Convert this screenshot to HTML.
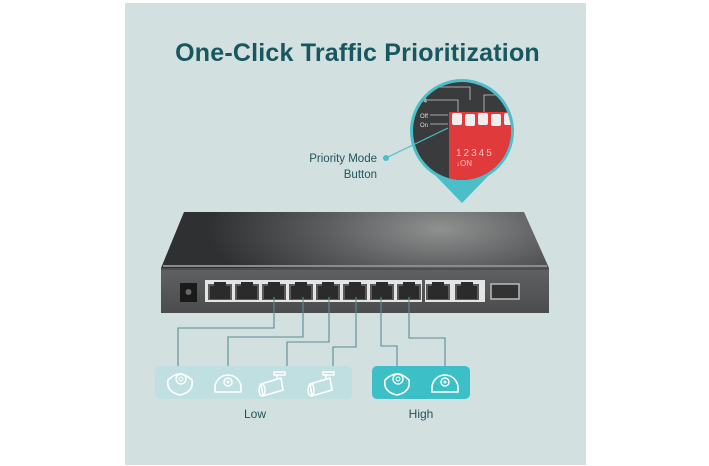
<!DOCTYPE html>
<html><head><meta charset="utf-8"><style>
html,body{margin:0;padding:0;background:#fff;}
svg{display:block;}
text{font-family:"Liberation Sans",sans-serif;}
</style></head><body>
<svg width="709" height="466" viewBox="0 0 709 466" xmlns="http://www.w3.org/2000/svg">
<defs>
<radialGradient id="top" cx="0.72" cy="0.3" r="0.6" gradientTransform="translate(0.72 0.3) scale(1 2.5) translate(-0.72 -0.3)">
<stop offset="0" stop-color="#8f9191"/><stop offset="0.5" stop-color="#5a5c5d"/><stop offset="1" stop-color="#2e3031"/>
</radialGradient>
<linearGradient id="front" x1="0" x2="0" y1="0" y2="1">
<stop offset="0" stop-color="#5f6162"/><stop offset="1" stop-color="#4a4c4d"/>
</linearGradient>
<clipPath id="cc"><circle cx="462" cy="131" r="49"/></clipPath>
<g id="dome"><path d="M-13 6 A13 13 0 0 1 13 6 L13 10 L-13 10 Z" fill="none" stroke="#fff" stroke-width="1.6"/><circle cx="0" cy="0" r="4" fill="none" stroke="#fff" stroke-width="1.4"/><circle cx="0" cy="0" r="1.5" fill="#fff"/></g>
<g id="turret"><path d="M-12 -4 Q0 -16 12 -4 Q14 8 0 11 Q-14 8 -12 -4 Z" fill="none" stroke="#fff" stroke-width="1.6"/><circle cx="1" cy="-5" r="5" fill="none" stroke="#fff" stroke-width="1.4"/><circle cx="1" cy="-5" r="2" fill="none" stroke="#fff" stroke-width="1"/></g>
<g id="bullet"><path d="M-12 -2 L8 -8 L10 4 L-10 10 Z" fill="none" stroke="#fff" stroke-width="1.6"/><ellipse cx="-11" cy="4" rx="3" ry="6" fill="none" stroke="#fff" stroke-width="1.4"/><path d="M4 -7 L4 -12 M1 -14 L12 -14 L12 -11 L1 -11 Z" fill="none" stroke="#fff" stroke-width="1.4"/></g>
</defs>
<rect x="125" y="3" width="461" height="462" fill="#d3e0e0"/>
<text x="357.5" y="61" font-size="25" font-weight="bold" fill="#17575f" text-anchor="middle" letter-spacing="0.2">One-Click Traffic Prioritization</text>
<!-- magnifier -->
<path d="M430 170 L462 203 L494 170 Z" fill="#4bbfc9"/>
<circle cx="462" cy="131" r="52" fill="#4bbfc9"/>
<g clip-path="url(#cc)">
<rect x="400" y="78" width="130" height="110" fill="#3a3b3c"/>
<path d="M420 100 L458 100 L458 112 M433 87 L470 87 L470 100 M484 112 L484 95 L505 95" stroke="#ccc" stroke-width="0.8" fill="none"/>
<path d="M430 115 L448 115 M430 124 L448 124" stroke="#ccc" stroke-width="0.8"/>
<text x="420" y="103" font-size="6" fill="#ddd">I-4</text>
<text x="420" y="118" font-size="6" fill="#ddd">Off</text>
<text x="420" y="127" font-size="6" fill="#ddd">On</text>
<rect x="449" y="112" width="70" height="80" fill="#e03a3c"/>
<rect x="452" y="113" width="10" height="12" rx="2" fill="#eee"/>
<rect x="465" y="114" width="10" height="12" rx="2" fill="#eee"/>
<rect x="478" y="113" width="10" height="12" rx="2" fill="#eee"/>
<rect x="491" y="114" width="10" height="12" rx="2" fill="#eee"/>
<rect x="504" y="113" width="10" height="12" rx="2" fill="#eee"/>
<text x="456" y="156" font-size="10" fill="#f7c0c0" letter-spacing="2">12345</text>
<text x="456" y="166" font-size="8" fill="#f7c0c0">↓ON</text>
</g>
<line x1="386" y1="158" x2="448" y2="128" stroke="#4bbfc9" stroke-width="1.2"/>
<circle cx="386" cy="158" r="3" fill="#4bbfc9"/>
<text x="377" y="162" font-size="11.5" fill="#1f555c" text-anchor="end">Priority Mode</text>
<text x="377" y="178" font-size="11.5" fill="#1f555c" text-anchor="end">Button</text>
<!-- switch -->
<path d="M184 212 L524 212 L549 268 L161 268 Z" fill="url(#top)"/>
<line x1="163" y1="266" x2="547" y2="266" stroke="#8a8c8c" stroke-width="2"/>
<rect x="161" y="268" width="388" height="45" fill="url(#front)"/>
<line x1="161" y1="269" x2="549" y2="269" stroke="#3a3c3d" stroke-width="1"/>
<rect x="180" y="283" width="17" height="19" fill="#1a1a1a"/>
<circle cx="188.5" cy="292" r="3" fill="#666"/>
<rect x="205" y="280" width="217" height="22" fill="#e4e4e4"/>
<rect x="425" y="280" width="60" height="22" fill="#e4e4e4"/>
<g fill="#5a5a5a">
<rect x="208" y="284" width="24" height="16"/><rect x="235" y="284" width="24" height="16"/><rect x="262" y="284" width="24" height="16"/><rect x="289" y="284" width="24" height="16"/><rect x="316" y="284" width="24" height="16"/><rect x="343" y="284" width="24" height="16"/><rect x="370" y="284" width="24" height="16"/><rect x="397" y="284" width="24" height="16"/><rect x="426" y="284" width="24" height="16"/><rect x="455" y="284" width="24" height="16"/>
</g>
<g fill="#2b2b2b">
<rect x="210" y="286" width="20" height="13"/><rect x="237" y="286" width="20" height="13"/><rect x="264" y="286" width="20" height="13"/><rect x="291" y="286" width="20" height="13"/><rect x="318" y="286" width="20" height="13"/><rect x="345" y="286" width="20" height="13"/><rect x="372" y="286" width="20" height="13"/><rect x="399" y="286" width="20" height="13"/><rect x="428" y="286" width="20" height="13"/><rect x="457" y="286" width="20" height="13"/>
<rect x="214" y="282" width="12" height="4"/><rect x="241" y="282" width="12" height="4"/><rect x="268" y="282" width="12" height="4"/><rect x="295" y="282" width="12" height="4"/><rect x="322" y="282" width="12" height="4"/><rect x="349" y="282" width="12" height="4"/><rect x="376" y="282" width="12" height="4"/><rect x="403" y="282" width="12" height="4"/><rect x="432" y="282" width="12" height="4"/><rect x="461" y="282" width="12" height="4"/>
</g>
<rect x="491" y="284" width="28" height="15" fill="#333" stroke="#bbb" stroke-width="1.5"/>
<!-- connectors -->
<g fill="none" stroke="#5a8d93" stroke-width="1.1">
<path d="M274 297 V328 H178 V368"/>
<path d="M303 297 V337 H228 V368"/>
<path d="M329 297 V342 H287 V368"/>
<path d="M356 297 V347 H333 V368"/>
<path d="M381 297 V346 H397 V368"/>
<path d="M409 297 V338 H445 V368"/>
</g>
<rect x="155" y="366" width="197" height="33" rx="5" fill="#bfdfe0"/>
<rect x="372" y="366" width="98" height="33" rx="5" fill="#3dbfc8"/>
<use href="#turret" x="180" y="384"/>
<use href="#dome" x="228" y="382"/>
<use href="#bullet" x="273" y="386"/>
<use href="#bullet" x="322" y="386"/>
<use href="#turret" x="397" y="384"/>
<use href="#dome" x="445" y="382"/>
<text x="255" y="418" font-size="12" fill="#1f555c" text-anchor="middle">Low</text>
<text x="421" y="418" font-size="12" fill="#1f555c" text-anchor="middle">High</text>
</svg>
</body></html>
